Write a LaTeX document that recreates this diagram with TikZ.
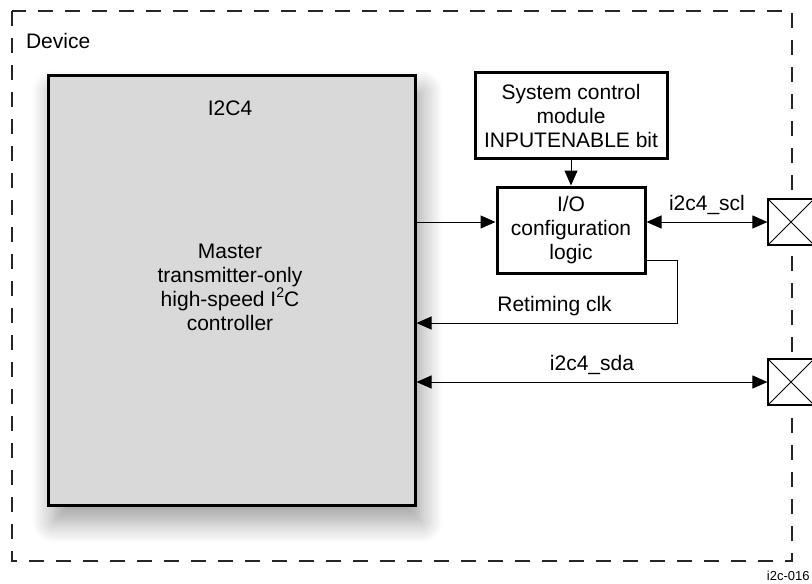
\documentclass[tikz,border=0pt]{standalone}
\usepackage{fontspec}
\setmainfont{Liberation Sans}
\usetikzlibrary{arrows.meta, positioning, shadows.blur}

\begin{document}
\begin{tikzpicture}[
  x=0.5pt, y=-0.5pt,
  every node/.style={font=\fontsize{10.5}{12}\selectfont, align=center},
  frame/.style={draw=black!85, line width=1pt, dash pattern=on 7.5pt off 6pt},
  ctrl/.style={rectangle, draw=black, line width=1.5pt, fill=black!15, minimum width=183.5pt, minimum height=214.5pt,
    blur shadow={shadow xshift=3pt, shadow yshift=-8pt, shadow blur radius=11pt, shadow blur steps=12, shadow opacity=40}},
  block/.style={rectangle, draw=black, line width=1.5pt, fill=white, inner sep=1pt},
  pad/.style={rectangle, draw=black, line width=0.6pt, fill=white, minimum size=23pt, inner sep=0pt,
    path picture={\draw[line width=0.5pt] (path picture bounding box.north west) -- (path picture bounding box.south east)
      (path picture bounding box.south west) -- (path picture bounding box.north east);}},
  arrow/.style={-{Triangle[length=7.5pt, width=6.5pt]}, line width=0.5pt},
  biarrow/.style={{Triangle[length=7.5pt, width=6.5pt]}-{Triangle[length=7.5pt, width=6.5pt]}, line width=0.5pt}
]
\useasboundingbox (0,0) rectangle (812,583);
\draw[frame] (12,11) rectangle (792,561);
\node[anchor=west] (device) at (19,41) {Device};

% controller block
\node[ctrl] (i2c) at (231.5,290.5) {};
\node (i2cname) at (230,108) {I2C4};
\node (ctrltext) at (230,287) {Master\\transmitter-only\\high-speed I\raisebox{0.8ex}{\fontsize{7}{7}\selectfont 2}C\\controller};

% configuration blocks
\node[block, minimum width=96pt, minimum height=42.5pt] (scm) at (571,115.5) {System control\\module\\INPUTENABLE bit};
\node[block, minimum width=74pt, minimum height=43pt] (io) at (571,230) {I/O\\configuration\\logic};

% pads
\node[pad] (padscl) at (791,222) {};
\node[pad] (padsda) at (791,382) {};

\coordinate (bend) at (677,323);

\draw[arrow] (scm) -- (io);
\draw[arrow] (i2c.east |- 0,222) -- (io.west |- 0,222);
\draw[biarrow] (io.east |- padscl) -- node[above]{i2c4\_scl} (padscl.west);
\draw[arrow] ([yshift=7pt]io.south east) -| (bend) -- node[above, pos=0.47]{Retiming clk} (i2c.east |- bend);
\draw[biarrow] (i2c.east |- padsda) -- node[above]{i2c4\_sda} (padsda.west);

\node[anchor=south east, inner sep=1pt, font=\fontsize{6.5}{7}\selectfont] (figid) at (812,583) {i2c-016};
\end{tikzpicture}
\end{document}
